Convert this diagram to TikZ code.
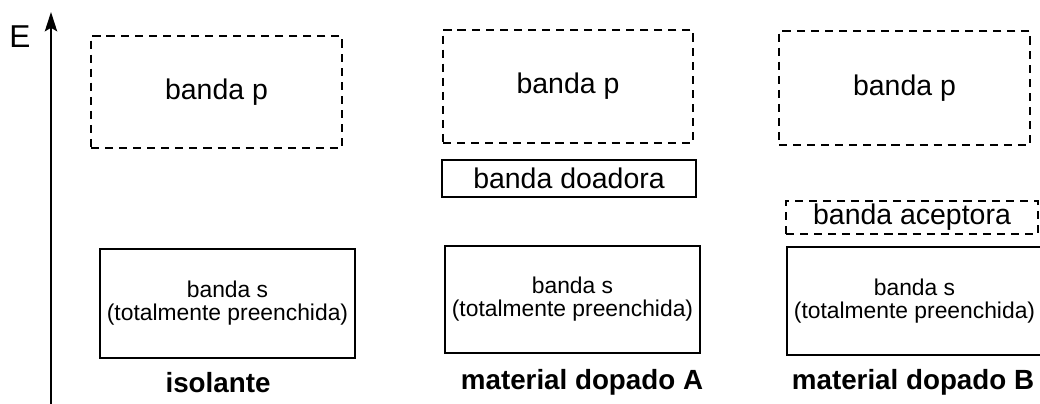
\documentclass[tikz,border=0pt]{standalone}
\usepackage{fontspec}
\setmainfont{Liberation Sans}
\usetikzlibrary{arrows.meta, positioning}

\tikzset{
    band/.style={draw, line width=0.9pt, inner sep=0pt, align=center,
        font=\fontsize{16.2pt}{19pt}\selectfont},
    emptyband/.style={band, dashed, dash pattern=on 4.6pt off 3.4pt},
    fullband/.style={band, minimum width=5.1cm, font=\fontsize{13pt}{13pt}\selectfont},
    matlabel/.style={font=\bfseries\fontsize{15.8pt}{18pt}\selectfont},
    axis/.style={line width=1.2pt, -{Stealth[length=11pt, width=7pt, inset=2pt]}}
}

\begin{document}
\begin{tikzpicture}[x=0.02cm, y=-0.02cm]
    \useasboundingbox (0,0) rectangle (1040,403);

    % energy axis
    \coordinate (axbot) at (51,405);
    \coordinate (axtop) at (51,12);
    \draw[axis] (axbot) -- (axtop);
    \node[font=\fontsize{18pt}{20pt}\selectfont] (elabel) at (20,37) {E};

    % isolante
    \node[emptyband, minimum width=5.02cm, minimum height=2.24cm] (isop) at (216.5,92) {banda p};
    \node[fullband, minimum height=2.18cm] (isos) at (227.5,303.5) {banda s\\(totalmente preenchida)};
    \node[matlabel] (isolabel) at (218,383) {isolante};

    % material dopado A
    \node[emptyband, minimum width=5cm, minimum height=2.26cm] (ap) at (568,86.5) {banda p};
    \node[band, minimum width=5.08cm, minimum height=0.74cm] (adoad) at (569,178.5) {banda doadora};
    \node[fullband, minimum height=2.14cm] (as) at (572.5,299.5) {banda s\\(totalmente preenchida)};
    \node[matlabel] (alabel) at (582,382) {material dopado A};

    % material dopado B
    \node[emptyband, minimum width=5.02cm, minimum height=2.28cm] (bp) at (904.5,88) {banda p};
    \node[emptyband, minimum width=5.04cm, minimum height=0.66cm] (bacep) at (912,217.5) {banda aceptora};
    \node[fullband, minimum height=2.16cm] (bs) at (914.5,301) {banda s\\(totalmente preenchida)};
    \node[matlabel] (blabel) at (913,382) {material dopado B};
\end{tikzpicture}
\end{document}
